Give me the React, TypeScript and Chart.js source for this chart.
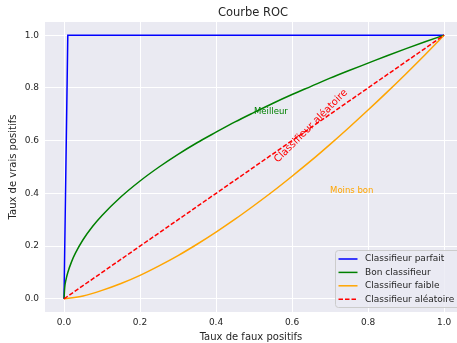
import React, { useEffect, useRef } from 'react';
import { Chart, registerables } from 'chart.js';

Chart.register(...registerables);

const titleText = 'Courbe ROC';
const xAxisLabel = 'Taux de faux positifs';
const yAxisLabel = 'Taux de vrais positifs';

const xTicks = [0, 0.2, 0.4, 0.6, 0.8, 1.0];
const yTicks = [0, 0.2, 0.4, 0.6, 0.8, 1.0];

const seriesNames = ['Classifieur parfait', 'Bon classifieur', 'Classifieur faible', 'Classifieur aléatoire'];
const seriesColors = ['#0000ff', '#008000', '#ffa500', '#ff0000'];

const perfectX = [0, 0.01, 1];
const perfectY = [0, 1, 1];

const goodX = [0, 0.002, 0.005, 0.01, 0.02, 0.03, 0.05, 0.075, 0.1, 0.15, 0.2, 0.25, 0.3, 0.35, 0.4, 0.45, 0.5, 0.55, 0.6, 0.65, 0.7, 0.75, 0.8, 0.85, 0.9, 0.95, 1.0];
const goodY = [0, 0.045, 0.071, 0.1, 0.141, 0.173, 0.224, 0.274, 0.316, 0.387, 0.447, 0.5, 0.548, 0.592, 0.632, 0.671, 0.707, 0.742, 0.775, 0.806, 0.837, 0.866, 0.894, 0.922, 0.949, 0.975, 1.0];

const weakX = [0, 0.05, 0.1, 0.15, 0.2, 0.25, 0.3, 0.35, 0.4, 0.45, 0.5, 0.55, 0.6, 0.65, 0.7, 0.75, 0.8, 0.85, 0.9, 0.95, 1.0];
const weakY = [0, 0.011, 0.032, 0.058, 0.089, 0.125, 0.164, 0.207, 0.253, 0.302, 0.354, 0.408, 0.465, 0.524, 0.586, 0.65, 0.716, 0.784, 0.854, 0.926, 1.0];

const randomX = [0, 1];
const randomY = [0, 1];

const annotationTexts = ['Meilleur', 'Moins bon', 'Classifieur aléatoire'];
const annotationX = [0.5, 0.7, 0.65];
const annotationY = [0.7, 0.4, 0.655];

const FONT = "'DejaVu Sans', sans-serif";
const TEXT_COLOR = '#262626';

const toPoints = (xs: number[], ys: number[]) => xs.map((x, i) => ({ x, y: ys[i] }));

const bgPlugin = {
  id: 'bgPlugin',
  beforeDraw(chart: any) {
    const { ctx, chartArea } = chart;
    ctx.save();
    ctx.fillStyle = '#ffffff';
    ctx.fillRect(0, 0, chart.width, chart.height);
    ctx.fillStyle = '#EAEAF2';
    ctx.fillRect(chartArea.left, chartArea.top, chartArea.right - chartArea.left, chartArea.bottom - chartArea.top);
    ctx.restore();
  },
};

const overlayPlugin = {
  id: 'overlayPlugin',
  afterDraw(chart: any) {
    const { ctx, chartArea, scales } = chart;
    const xs = scales.x;
    const ys = scales.y;
    ctx.save();
    // title
    ctx.fillStyle = TEXT_COLOR;
    ctx.font = `11.5px ${FONT}`;
    ctx.textAlign = 'center';
    ctx.textBaseline = 'middle';
    ctx.fillText(titleText, (chartArea.left + chartArea.right) / 2 + 2, 13);

    // annotations
    ctx.textAlign = 'left';
    ctx.textBaseline = 'alphabetic';
    ctx.font = `8.5px ${FONT}`;
    ctx.fillStyle = seriesColors[1];
    ctx.fillText(annotationTexts[0], xs.getPixelForValue(annotationX[0]), ys.getPixelForValue(annotationY[0]));
    ctx.fillStyle = seriesColors[2];
    ctx.fillText(annotationTexts[1], xs.getPixelForValue(annotationX[1]), ys.getPixelForValue(annotationY[1]));

    ctx.save();
    ctx.translate(xs.getPixelForValue(annotationX[2]), ys.getPixelForValue(annotationY[2]));
    ctx.rotate(-Math.PI / 4);
    ctx.font = `10px ${FONT}`;
    ctx.fillStyle = seriesColors[3];
    ctx.textAlign = 'center';
    ctx.textBaseline = 'middle';
    ctx.fillText(annotationTexts[2], 0, 0);
    ctx.restore();

    // legend
    const bx = chartArea.right - 121.5;
    const by = chartArea.bottom - 61.5;
    const bw = 130;
    const bh = 57;
    ctx.beginPath();
    if ((ctx as any).roundRect) (ctx as any).roundRect(bx, by, bw, bh, 3);
    else ctx.rect(bx, by, bw, bh);
    ctx.fillStyle = 'rgba(234,234,242,0.8)';
    ctx.fill();
    ctx.strokeStyle = '#cccccc';
    ctx.lineWidth = 1;
    ctx.stroke();

    ctx.font = `9px ${FONT}`;
    ctx.textAlign = 'left';
    ctx.textBaseline = 'middle';
    for (let i = 0; i < seriesNames.length; i++) {
      const yy = by + 8.5 + i * 13.4;
      ctx.beginPath();
      ctx.strokeStyle = seriesColors[i];
      ctx.lineWidth = 1.5;
      ctx.setLineDash(i === 3 ? [4.5, 2] : []);
      ctx.moveTo(bx + 3, yy);
      ctx.lineTo(bx + 22, yy);
      ctx.stroke();
      ctx.setLineDash([]);
      ctx.fillStyle = TEXT_COLOR;
      ctx.fillText(seriesNames[i], bx + 29.5, yy);
    }
    ctx.restore();
  },
};

export default function App() {
  const canvasRef = useRef<HTMLCanvasElement>(null);

  useEffect(() => {
    document.body.style.margin = '0';
    const canvas = canvasRef.current;
    if (!canvas) return;
    const xs = [perfectX, goodX, weakX, randomX];
    const ysArr = [perfectY, goodY, weakY, randomY];
    const orders = [4, 3, 2, 1];
    const chart = new Chart(canvas, {
      type: 'line',
      data: {
        datasets: seriesNames.map((name, i) => ({
          label: name,
          data: toPoints(xs[i], ysArr[i]),
          borderColor: seriesColors[i],
          backgroundColor: seriesColors[i],
          borderWidth: 1.5,
          borderDash: i === 3 ? [4.5, 2] : [],
          pointRadius: 0,
          fill: false,
          tension: 0,
          cubicInterpolationMode: i === 1 || i === 2 ? 'monotone' : 'default',
          order: orders[i],
        })) as any,
      },
      options: {
        responsive: false,
        animation: false,
        layout: { padding: { top: 22, left: 0, right: 0, bottom: 0 } },
        plugins: {
          legend: { display: false },
          tooltip: { enabled: false },
          title: { display: false },
        },
        scales: {
          x: {
            type: 'linear',
            min: -0.05,
            max: 1.034,
            afterBuildTicks: (scale: any) => {
              scale.ticks = xTicks.map((v) => ({ value: v }));
            },
            afterFit: (scale: any) => {
              scale.height = 31;
            },
            grid: { color: '#ffffff', lineWidth: 1, drawTicks: false },
            border: { display: false },
            ticks: {
              padding: 5,
              color: TEXT_COLOR,
              font: { family: FONT, size: 9 },
              callback: (v: any) => Number(v).toFixed(1),
            },
            title: {
              display: true,
              text: xAxisLabel,
              color: TEXT_COLOR,
              font: { family: FONT, size: 10 },
              padding: { top: 0, bottom: 0 },
            },
          },
          y: {
            type: 'linear',
            min: -0.05,
            max: 1.05,
            afterBuildTicks: (scale: any) => {
              scale.ticks = yTicks.map((v) => ({ value: v }));
            },
            afterFit: (scale: any) => {
              scale.width = 45;
            },
            grid: { color: '#ffffff', lineWidth: 1, drawTicks: false },
            border: { display: false },
            ticks: {
              padding: 6,
              color: TEXT_COLOR,
              font: { family: FONT, size: 9 },
              callback: (v: any) => Number(v).toFixed(1),
            },
            title: {
              display: true,
              text: yAxisLabel,
              color: TEXT_COLOR,
              font: { family: FONT, size: 10 },
              padding: { top: 7, bottom: 0 },
            },
          },
        },
      },
      plugins: [bgPlugin, overlayPlugin],
    });
    return () => chart.destroy();
  }, []);

  return (
    <div style={{ position: 'absolute', left: 0, top: 0, width: 457, height: 343 }}>
      <canvas ref={canvasRef} width={457} height={343} />
    </div>
  );
}
